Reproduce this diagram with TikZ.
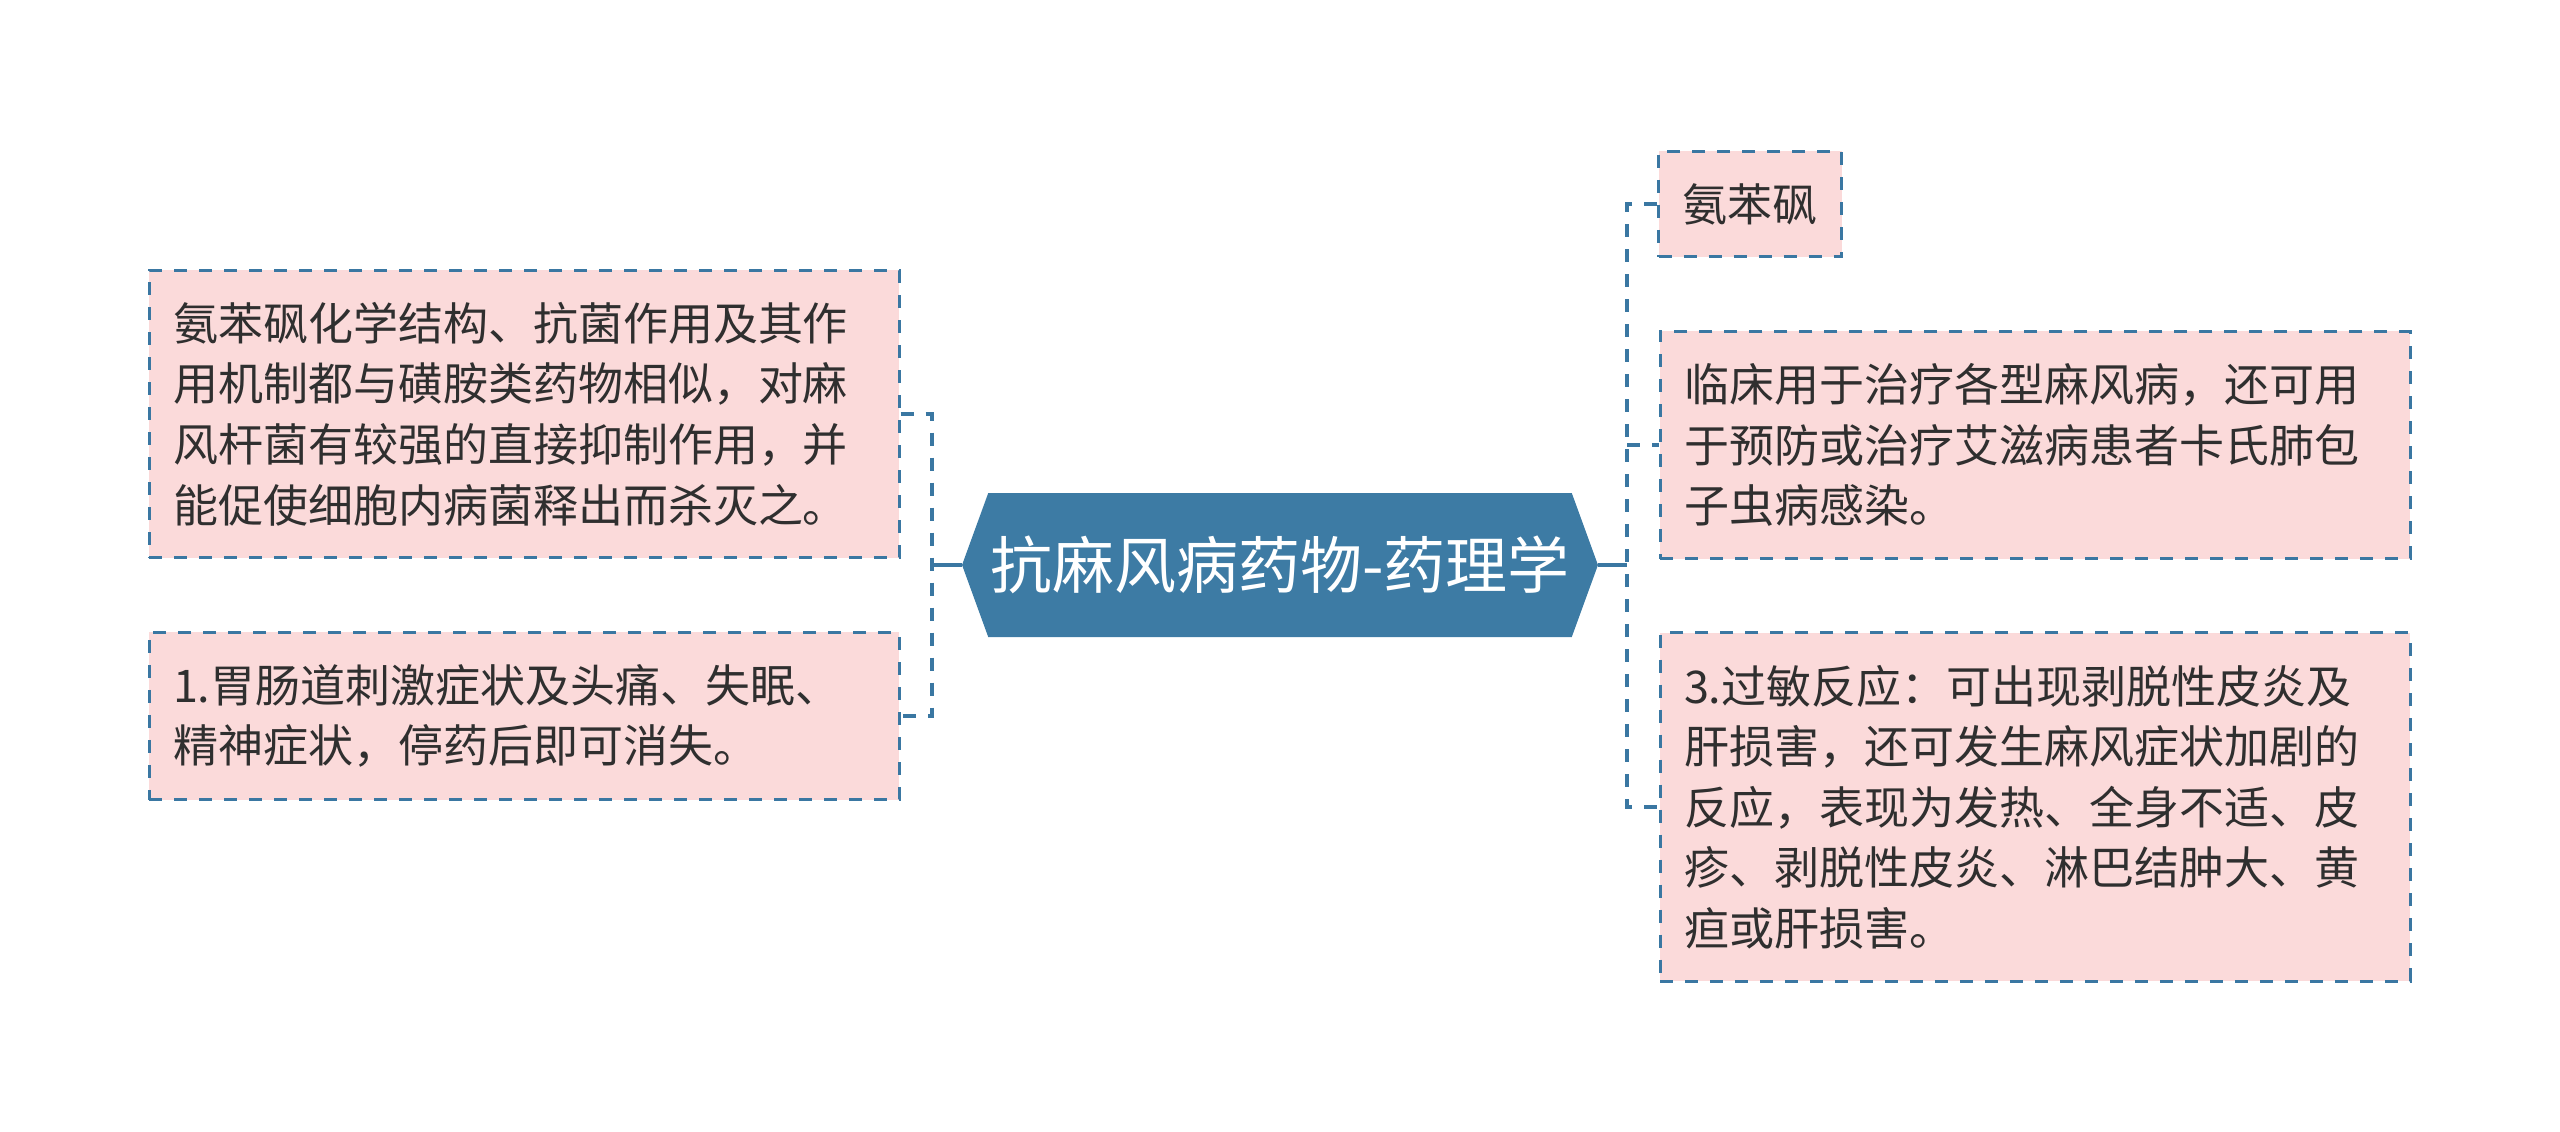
\documentclass[tikz,border=0pt]{standalone}
\usepackage{fontspec}
\setmainfont{Noto Sans CJK SC}
\usetikzlibrary{shapes.symbols}
\definecolor{stInk}  {HTML}{2F2F2F}
\definecolor{stBlue} {HTML}{3D7BA4}
\definecolor{stLine} {HTML}{3A77A2}
\definecolor{stPink} {HTML}{FBDADA}

\tikzset{
  leaf/.style={draw=stLine,fill=stPink,line width=1.5pt,dash pattern=on 6.5pt off 6pt,
    inner xsep=12pt,inner ysep=16pt,text=stInk,align=left,
    font=\fontsize{22.5pt}{30.3pt}\selectfont},
  wideleaf/.style={leaf,text width=351pt},
  core/.style={signal,signal to=west and east,signal pointer angle=140,fill=stBlue,
    text=white,minimum height=72pt,inner xsep=1pt,
    font=\fontsize{31pt}{36pt}\selectfont},
  link/.style={draw=stLine,line width=2pt,dash pattern=on 6.5pt off 6pt},
  stem/.style={draw=stLine,line width=2pt}
}

\begin{document}
\begin{tikzpicture}[x=0.5pt,y=-0.5pt]
  \useasboundingbox (0,0) rectangle (2560,1131);

  \node[core] (core) at (1280,565) {抗麻风病药物-药理学};

  % left side
  \node[wideleaf] (l1) at (524,414) {氨苯砜化学结构、抗菌作用及其作\\
    用机制都与磺胺类药物相似，对麻\\
    风杆菌有较强的直接抑制作用，并\\
    能促使细胞内病菌释出而杀灭之。};
  \node[wideleaf] (l2) at (524,716) {1.胃肠道刺激症状及头痛、失眠、\\
    精神症状，停药后即可消失。};

  % right side
  \node[leaf] (r1) at (1750,204) {氨苯砜};
  \node[wideleaf] (r2) at (2035,445) {临床用于治疗各型麻风病，还可用\\
    于预防或治疗艾滋病患者卡氏肺包\\
    子虫病感染。};
  \node[wideleaf] (r3) at (2035,807) {3.过敏反应：可出现剥脱性皮炎及\\
    肝损害，还可发生麻风症状加剧的\\
    反应，表现为发热、全身不适、皮\\
    疹、剥脱性皮炎、淋巴结肿大、黄\\
    疸或肝损害。};

  \coordinate (lbus) at (932,565);
  \coordinate (rbus) at (1627,565);

  \draw[stem] (core.west) -- (lbus);
  \draw[link] (l1.east) -| (lbus) |- (l2.east);
  \draw[stem] (core.east) -- (rbus);
  \draw[link] (r1.west) -| (rbus) |- (r3.west);
  \draw[link] (rbus |- r2.west) -- (r2.west);
\end{tikzpicture}
\end{document}
